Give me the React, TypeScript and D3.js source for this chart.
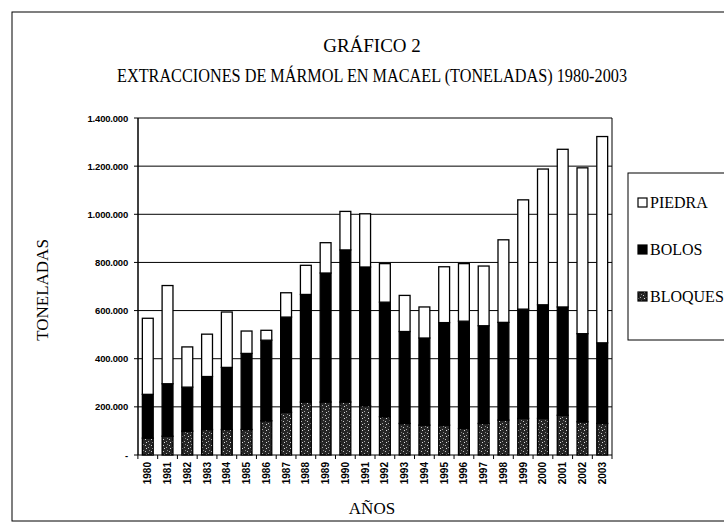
import React from 'react';
import * as d3 from 'd3';

// years and tonnes per type
const years = ['1980','1981','1982','1983','1984','1985','1986','1987','1988','1989','1990','1991',
  '1992','1993','1994','1995','1996','1997','1998','1999','2000','2001','2002','2003'];
const bloques = [70000,78000,99000,106000,106000,106000,142000,177000,220000,220000,220000,205000,
  159000,131000,124000,124000,110000,131000,145000,152000,152000,165000,138000,131000];
const bolos = [182000,218000,183000,220000,258000,316000,335000,396000,447000,536000,632000,576000,
  476000,382000,362000,426000,446000,406000,406000,454000,472000,450000,366000,335000];
const piedra = [316000,408000,167000,176000,230000,93000,41000,101000,121000,126000,160000,221000,
  160000,150000,129000,232000,239000,248000,343000,454000,564000,655000,689000,857000];
const yTicks = [0,200000,400000,600000,800000,1000000,1200000,1400000];
const yTickLabels = ['-','200.000','400.000','600.000','800.000','1.000.000','1.200.000','1.400.000'];
const legendItems = ['PIEDRA','BOLOS','BLOQUES'];

const serif = '"Liberation Serif", "Times New Roman", serif';
const sans = '"Liberation Sans", Arial, sans-serif';

export default function App() {
  const W = 724, H = 526;
  const left = 138, right = 612, top = 118, bottom = 455;

  const x = d3.scaleBand().domain(years).range([left, right]).paddingInner(0.45).paddingOuter(0.22);
  const y = d3.scaleLinear().domain([0, 1400000]).range([bottom, top]);

  const rows = years.map((yr, i) => ({ year: yr, bloques: bloques[i], bolos: bolos[i], piedra: piedra[i] }));
  const stack = d3.stack<any>().keys(['bloques', 'bolos', 'piedra']);
  const series = stack(rows);

  const fills: Record<string, string> = { bloques: 'url(#speckle)', bolos: '#000', piedra: '#fff' };

  return (
    <svg width={W} height={H} style={{ position: 'absolute', left: 0, top: 0, background: '#fff' }}>
      <defs>
        <pattern id="speckle" width="6" height="6" patternUnits="userSpaceOnUse">
          <rect width="6" height="6" fill="#262626" />
          <rect x="1" y="1" width="1" height="1" fill="#ccc" />
          <rect x="4" y="3" width="1" height="1" fill="#aaa" />
          <rect x="2" y="4" width="1" height="1" fill="#ddd" />
          <rect x="5" y="0" width="1" height="1" fill="#888" />
        </pattern>
      </defs>

      {/* outer frame */}
      <rect x={12} y={12} width={730} height={509} fill="none" stroke="#000" strokeWidth={1} />

      <text x={372} y={52} textAnchor="middle" fontFamily={serif} fontSize={19}>GRÁFICO 2</text>
      <text x={372} y={82} textAnchor="middle" fontFamily={serif} fontSize={19}
        textLength={510} lengthAdjust="spacingAndGlyphs">
        EXTRACCIONES DE MÁRMOL EN MACAEL (TONELADAS) 1980-2003
      </text>

      {/* gridlines */}
      {yTicks.map((t) => (
        <line key={t} x1={left} x2={right} y1={y(t)} y2={y(t)} stroke="#000" strokeWidth={1} />
      ))}
      <line x1={left} x2={left} y1={top} y2={bottom} stroke="#000" strokeWidth={1.5} />
      <line x1={right} x2={right} y1={top} y2={bottom} stroke="#000" strokeWidth={1} />
      {yTicks.map((t, i) => (
        <g key={'t' + t}>
          <line x1={left - 4} x2={left} y1={y(t)} y2={y(t)} stroke="#000" />
          <text x={128} y={y(t) + 3.5} textAnchor="end" fontFamily={sans} fontWeight="bold" fontSize={9.5}
            letterSpacing={-0.2}>
            {yTickLabels[i]}
          </text>
        </g>
      ))}

      {/* bars */}
      {series.map((s) => (
        <g key={s.key}>
          {s.map((d, i) => (
            <rect key={i} x={x(years[i])} y={y(d[1])} width={x.bandwidth()} height={y(d[0]) - y(d[1])}
              fill={fills[s.key]} stroke="#000" strokeWidth={1.3} />
          ))}
        </g>
      ))}

      {/* x ticks and labels */}
      {years.map((yr) => {
        const cx = (x(yr) as number) + x.bandwidth() / 2;
        const bx = (x(yr) as number) - (x.step() - x.bandwidth()) / 2;
        return (
          <g key={yr}>
            <line x1={bx} x2={bx} y1={bottom} y2={bottom + 4} stroke="#000" />
            <text transform={`translate(${cx + 3.5},${462}) rotate(-90)`} textAnchor="end"
              fontFamily={sans} fontWeight="bold" fontSize={10}>{yr}</text>
          </g>
        );
      })}
      <line x1={right} x2={right} y1={bottom} y2={bottom + 4} stroke="#000" />

      <text x={372} y={514} textAnchor="middle" fontFamily={serif} fontSize={17}>AÑOS</text>
      <text transform="translate(48,290) rotate(-90)" textAnchor="middle" fontFamily={serif} fontSize={17}>
        TONELADAS
      </text>

      {/* legend */}
      <rect x={628} y={173} width={110} height={167} fill="#fff" stroke="#000" strokeWidth={1} />
      {legendItems.map((name, i) => {
        const ly = 208 + i * 47;
        const key = name.toLowerCase();
        return (
          <g key={name}>
            <rect x={638} y={ly - 10} width={9} height={9} fill={fills[key]} stroke="#000" strokeWidth={1.2} />
            <text x={650} y={ly} fontFamily={serif} fontSize={16}>{name}</text>
          </g>
        );
      })}
    </svg>
  );
}
